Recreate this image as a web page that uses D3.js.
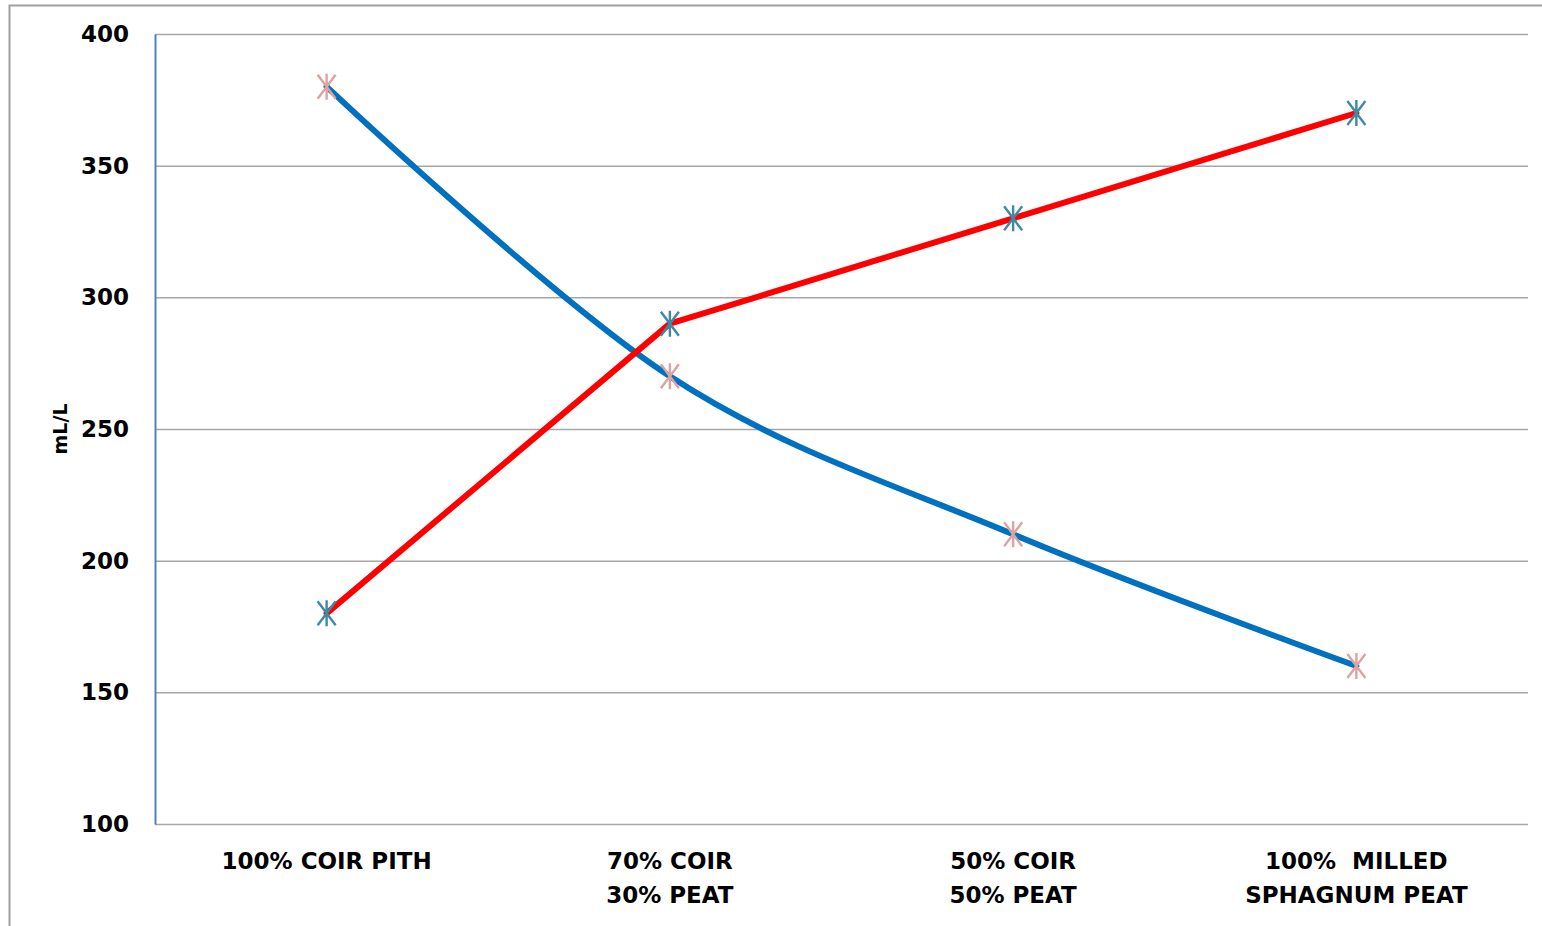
<!DOCTYPE html>
<html>
<head>
<meta charset="utf-8">
<script src="https://cdn.jsdelivr.net/npm/d3@7"></script>
<style>
  html, body { margin: 0; padding: 0; background: #fff; }
  svg { display: block; }
  text { font-family: "DejaVu Sans", Verdana, sans-serif; font-weight: bold; fill: #000; }
</style>
</head>
<body>
<svg id="chart" width="1542" height="926"></svg>
<script>
// Mix compositions (x categories), each split into label lines
const categories = [
  ["100% COIR PITH"],
  ["70% COIR", "30% PEAT"],
  ["50% COIR", "50% PEAT"],
  ["100%  MILLED", "SPHAGNUM PEAT"]
];
// Two measured series, mL/L
const blueSeries = [380, 270, 210, 160];
const redSeries = [180, 290, 330, 370];
const yTicks = [100, 150, 200, 250, 300, 350, 400];
const yLabel = "mL/L";

const svg = d3.select("#chart");
const W = 1542, H = 926;
const margin = { left: 155, right: 14, top: 34, bottom: 102 };
const plotW = W - margin.left - margin.right;
const plotH = H - margin.top - margin.bottom;

// outer chart frame
svg.append("rect")
  .attr("x", 9.5).attr("y", 5.5)
  .attr("width", W + 10).attr("height", H + 10)
  .attr("fill", "none").attr("stroke", "#a0a0a0").attr("stroke-width", 2);

const g = svg.append("g").attr("transform", `translate(${margin.left},${margin.top})`);

const x = d3.scalePoint()
  .domain(d3.range(categories.length))
  .range([0, plotW])
  .padding(0.5);

const y = d3.scaleLinear().domain([100, 400]).range([plotH, 0]);

// horizontal gridlines
g.append("g")
  .selectAll("line")
  .data(yTicks.filter(t => t > 100))
  .join("line")
  .attr("x1", 0).attr("x2", plotW)
  .attr("y1", d => y(d) + 0.5).attr("y2", d => y(d) + 0.5)
  .attr("stroke", "#a6a6a6").attr("stroke-width", 1.5);

// bottom axis line
g.append("line")
  .attr("x1", 0).attr("x2", plotW)
  .attr("y1", plotH + 0.5).attr("y2", plotH + 0.5)
  .attr("stroke", "#a6a6a6").attr("stroke-width", 1.5);

// left axis with tick labels
const yAxis = d3.axisLeft(y).tickValues(yTicks).tickSize(0).tickPadding(26);
const yAxisG = g.append("g").call(yAxis);
yAxisG.select(".domain").attr("stroke", "#4f81bd").attr("stroke-width", 2);
yAxisG.selectAll("text")
  .style("font-family", "'DejaVu Sans', Verdana, sans-serif")
  .style("font-weight", "bold")
  .attr("font-size", 23)
  .attr("fill", "#000");

// y axis title
svg.append("text")
  .attr("transform", `translate(67,${margin.top + y(250)}) rotate(-90)`)
  .attr("text-anchor", "middle")
  .attr("font-size", 19)
  .text(yLabel);

// category labels
const catG = g.append("g");
categories.forEach((lines, i) => {
  const t = catG.append("text")
    .attr("x", x(i))
    .attr("y", plotH + 45)
    .attr("text-anchor", "middle")
    .attr("font-size", 23);
  lines.forEach((ln, j) => {
    t.append("tspan")
      .attr("x", x(i))
      .attr("dy", j === 0 ? 0 : 34)
      .attr("xml:space", "preserve")
      .style("white-space", "pre")
      .text(ln);
  });
});

// blue series: smoothed; red series: straight segments
const smoothLine = d3.line()
  .x((d, i) => x(i))
  .y(d => y(d))
  .curve(d3.curveCatmullRom.alpha(0));
const straightLine = d3.line()
  .x((d, i) => x(i))
  .y(d => y(d));

g.append("path").datum(blueSeries)
  .attr("d", smoothLine).attr("fill", "none")
  .attr("stroke", "#0070c0").attr("stroke-width", 6).attr("stroke-linecap", "round");

g.append("path").datum(redSeries)
  .attr("d", straightLine).attr("fill", "none")
  .attr("stroke", "#ff0000").attr("stroke-width", 6)
  .attr("stroke-linecap", "round").attr("stroke-linejoin", "round");

// asterisk markers
function drawMarkers(data, color) {
  const mg = g.append("g");
  const dx = 9, dy = 12;
  data.forEach((v, i) => {
    const cx = x(i), cy = y(v);
    const p = `M${cx - dx},${cy - dy}L${cx + dx},${cy + dy}M${cx - dx},${cy + dy}L${cx + dx},${cy - dy}M${cx},${cy - dy - 1}L${cx},${cy + dy + 1}`;
    mg.append("path").attr("d", p)
      .attr("stroke", color).attr("stroke-width", 2.4).attr("fill", "none");
  });
}
drawMarkers(blueSeries, "#dba3a1");
drawMarkers(redSeries, "#3d8aa5");
</script>
</body>
</html>
